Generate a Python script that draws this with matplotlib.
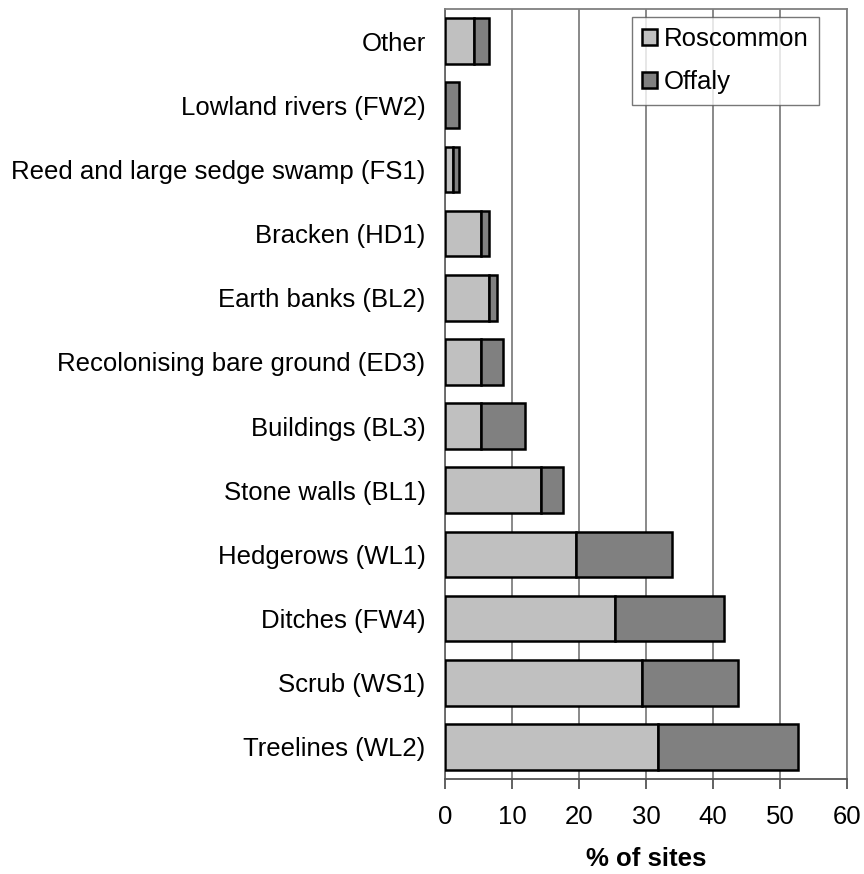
import matplotlib.pyplot as plt
import numpy as np

plt.rcParams['font.family'] = ['Liberation Sans', 'DejaVu Sans']

habitats = ['Treelines (WL2)', 'Scrub (WS1)', 'Ditches (FW4)', 'Hedgerows (WL1)',
            'Stone walls (BL1)', 'Buildings (BL3)', 'Recolonising bare ground (ED3)',
            'Earth banks (BL2)', 'Bracken (HD1)', 'Reed and large sedge swamp (FS1)',
            'Lowland rivers (FW2)', 'Other']
roscommon = [31.8, 29.4, 25.3, 19.6, 14.3, 5.3, 5.3, 6.5, 5.3, 1.2, 0.0, 4.4]
offaly = [20.9, 14.3, 16.4, 14.3, 3.3, 6.7, 3.4, 1.2, 1.3, 0.9, 2.1, 2.2]
xticks = [0, 10, 20, 30, 40, 50, 60]

fs = 18.5

fig = plt.figure(figsize=(8.64, 8.74), dpi=100)
ax = fig.add_axes([445 / 864, 1 - 779 / 874, 402 / 864, 770 / 874])

y = np.arange(len(habitats))
ax.barh(y, roscommon, height=0.71, color='#c0c0c0', edgecolor='black',
        linewidth=1.8, label='Roscommon', zorder=3)
ax.barh(y, offaly, left=roscommon, height=0.71, color='#808080',
        edgecolor='black', linewidth=1.8, label='Offaly', zorder=3)

ax.set_xlim(0, 60)
ax.set_ylim(-0.5, len(habitats) - 0.5)
ax.set_xticks(xticks)
ax.set_yticks(y)
ax.set_yticklabels(habitats, fontsize=fs)
ax.tick_params(axis='y', length=0, pad=14)
ax.tick_params(axis='x', direction='out', length=7, width=1.3, color='#555555',
               labelsize=fs, pad=12)
ax.xaxis.grid(True, color='#808080', linewidth=1.3, zorder=0)
for s in ax.spines.values():
    s.set_color('#808080')
    s.set_linewidth(1.3)
ax.spines['left'].set_color('#666666')
ax.spines['bottom'].set_color('#555555')
ax.set_xlabel('% of sites', fontsize=fs, fontweight='bold', labelpad=13)

leg = ax.legend(loc='upper right', bbox_to_anchor=(0.93, 0.99), fontsize=fs,
                frameon=True, fancybox=False, edgecolor='#555555',
                handlelength=0.6, handleheight=0.6, handletextpad=0.25,
                labelspacing=0.75, borderpad=0.4, borderaxespad=0.0)
leg.get_frame().set_linewidth(1.0)

fig.savefig('out.png', dpi=100)
